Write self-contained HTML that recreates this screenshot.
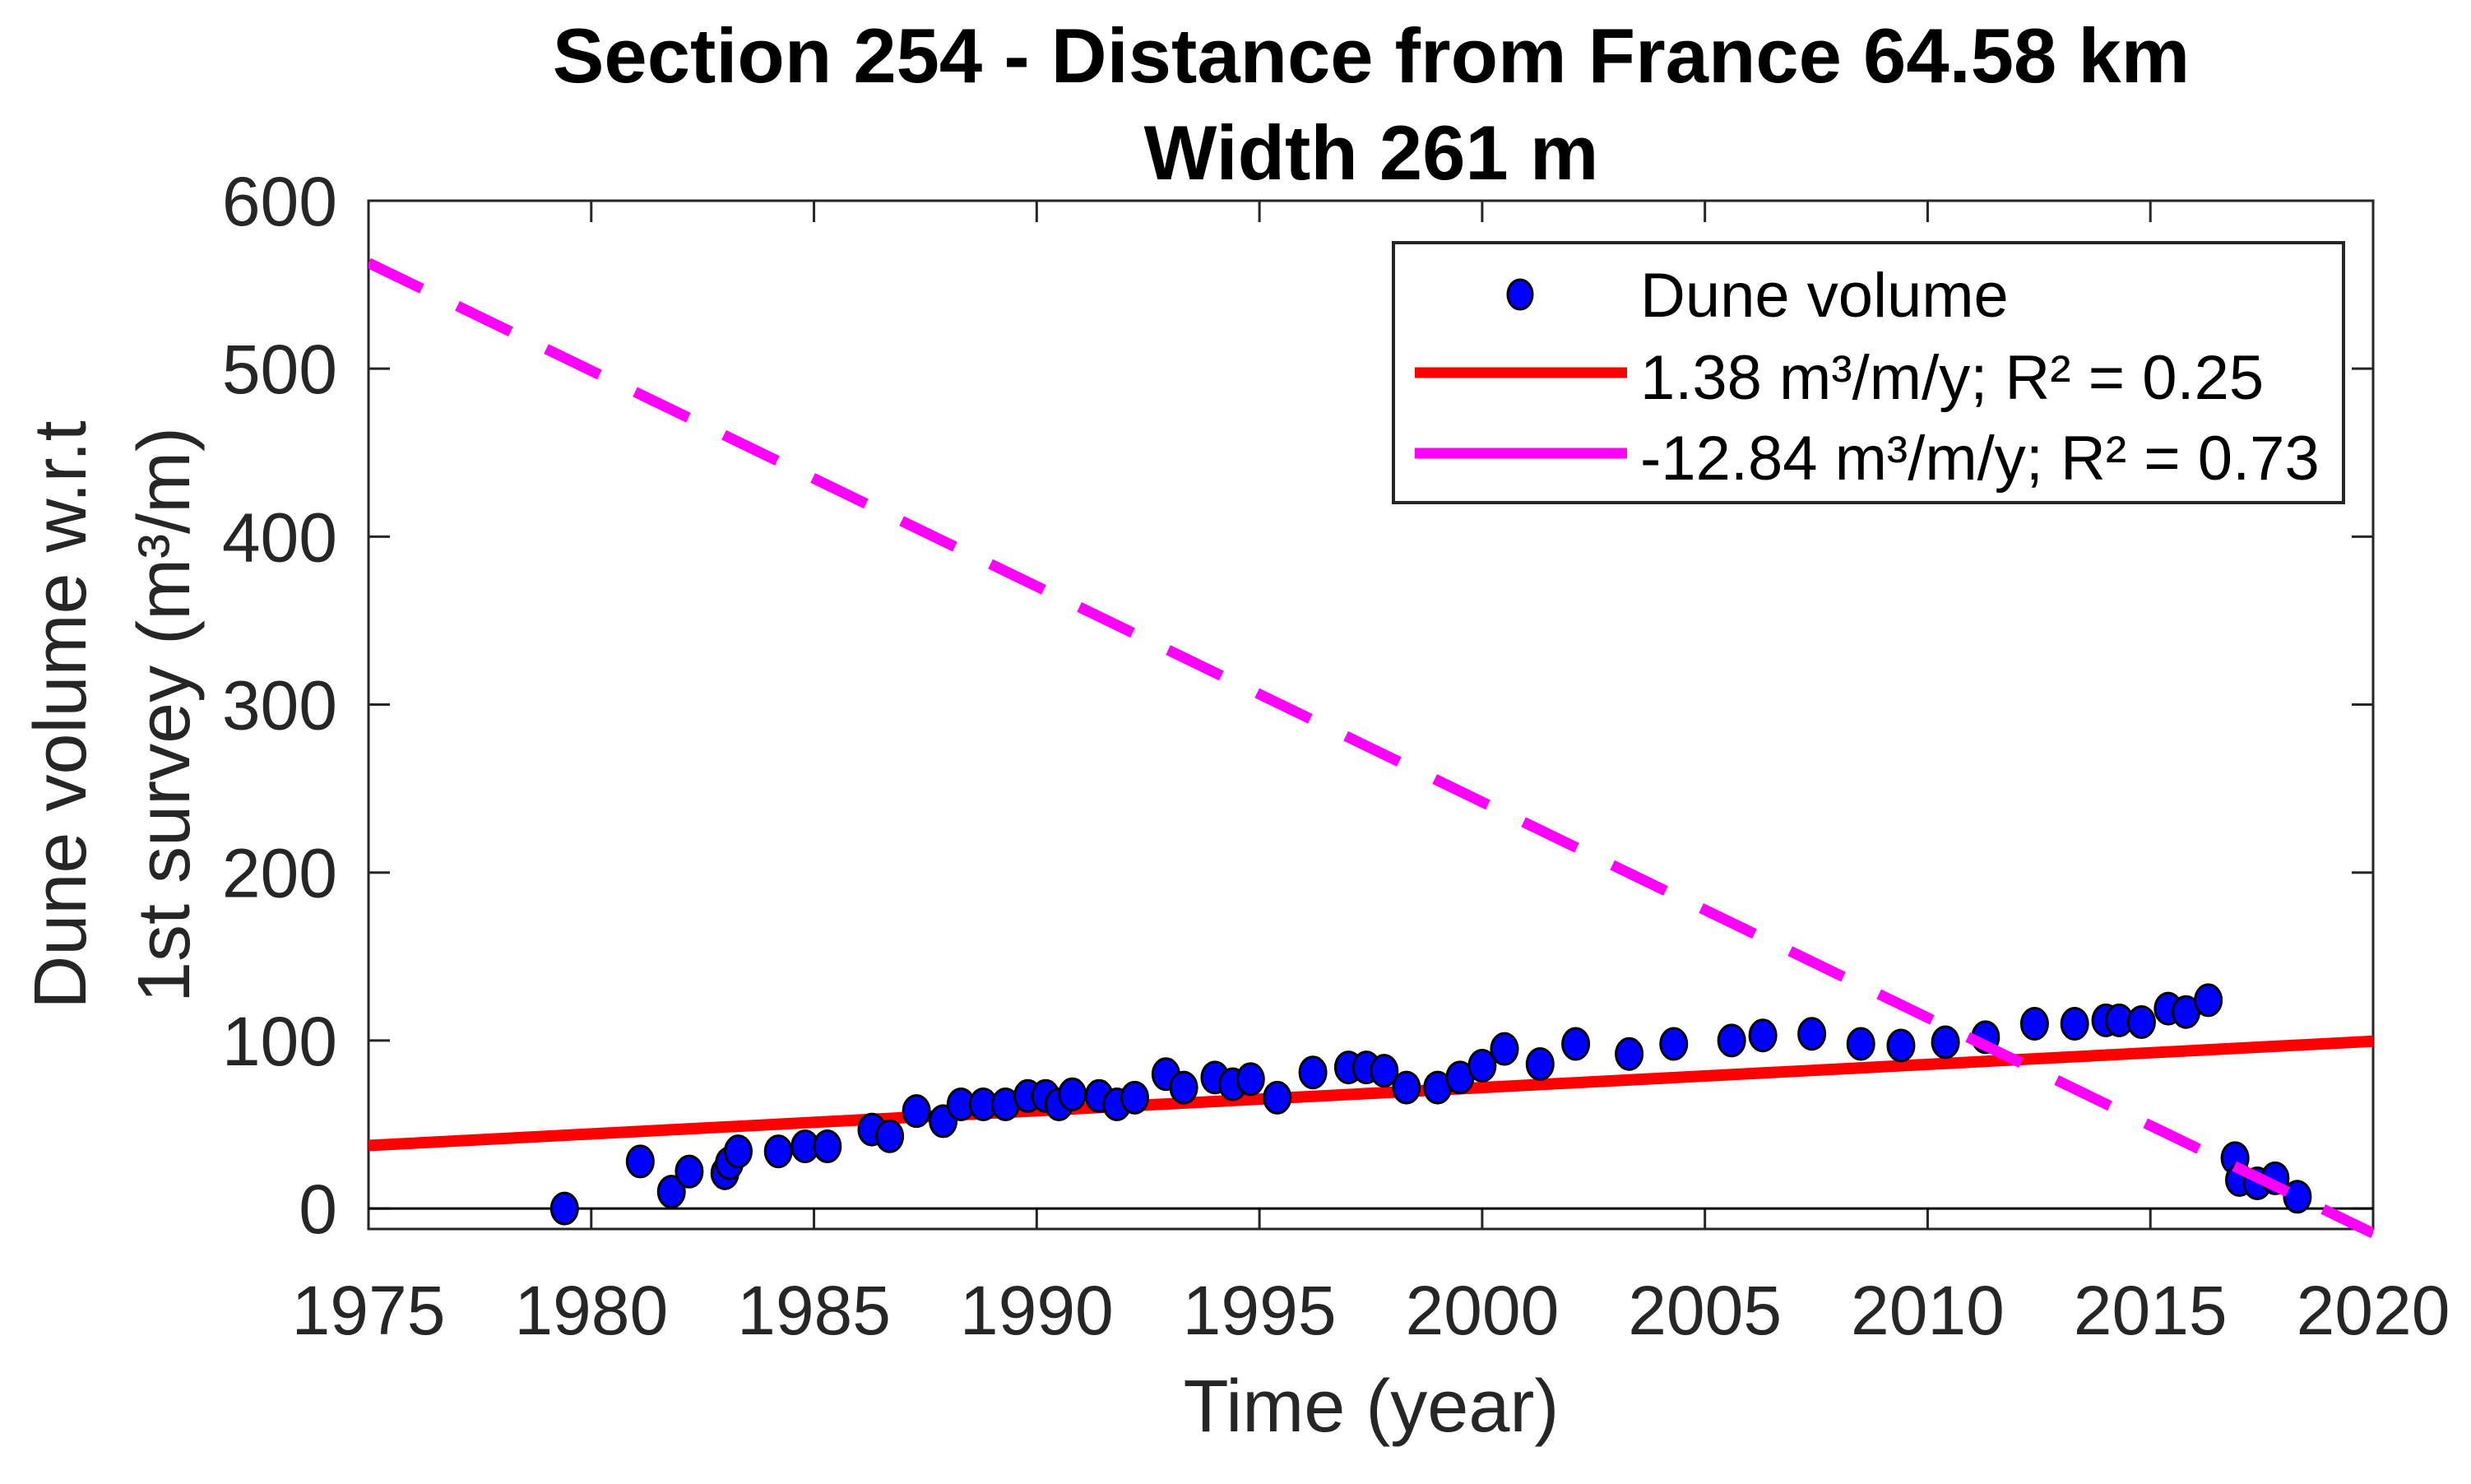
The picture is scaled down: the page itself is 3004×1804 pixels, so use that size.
<!DOCTYPE html>
<html><head><meta charset="utf-8"><style>
html,body{margin:0;padding:0;background:#fff;}
svg{display:block;font-family:"Liberation Sans",Arial,sans-serif;}
</style></head><body>
<svg id="chart" width="3004" height="1804" viewBox="0 0 3004 1804">
<text x="1667" y="100" text-anchor="middle" font-weight="bold" font-size="94">Section 254 - Distance from France 64.58 km</text>
<text x="1667" y="218" text-anchor="middle" font-weight="bold" font-size="94">Width 261 m</text>
<g id="plot"></g>
</svg>
<script>
const years=[1979.4,1981.1,1981.8,1982.2,1983.0,1983.1,1983.3,1984.2,1984.8,1985.3,1986.3,1986.7,1987.3,1987.9,1988.3,1988.8,1989.3,1989.8,1990.2,1990.5,1990.8,1991.4,1991.8,1992.2,1992.9,1993.3,1994.0,1994.4,1994.8,1995.4,1996.2,1997.0,1997.4,1997.8,1998.3,1999.0,1999.5,2000.0,2000.5,2001.3,2002.1,2003.3,2004.3,2005.6,2006.3,2007.4,2008.5,2009.4,2010.4,2011.3,2012.4,2013.3,2014.0,2014.3,2014.8,2015.4,2015.8,2016.3,2016.9,2017.0,2017.4,2017.8,2018.3];
const volumes=[0,28,10,22,21,27,34,34,37,37,47,43,58,52,62,62,62,67,67,62,68,67,62,66,80,72,78,74,77,66,81,84,84,82,72,72,78,85,95,86,98,92,98,100,103,104,98,97,99,102,110,110,112,112,111,119,117,124,30,17,15,18,7];
const redFit=[37.5,1.38];      // value at 1975, slope
const magentaFit=[563,-12.84]; // value at 1975, slope
const xTicks=[1975,1980,1985,1990,1995,2000,2005,2010,2015,2020];
const yTicks=[0,100,200,300,400,500,600];

const L=448,R=2885,T=244,B=1494;
const X0=1975,X1=2020,Y0=-12.2,Y1=600;
const sx=v=>L+(v-X0)/(X1-X0)*(R-L);
const sy=v=>B-(v-Y0)/(Y1-Y0)*(B-T);
const NS='http://www.w3.org/2000/svg';
const g=document.getElementById('plot');
function mk(t,a,p){const e=document.createElementNS(NS,t);for(const k in a)e.setAttribute(k,a[k]);(p||g).appendChild(e);return e;}

const defs=mk('defs',{});
const cp=mk('clipPath',{id:'clip'},defs);mk('rect',{x:L,y:T,width:R-L,height:B-T+40},cp);

let e=mk('rect',{x:L,y:T,width:R-L,height:B-T,fill:'none',stroke:'#262626','stroke-width':3});



xTicks.forEach(v=>{
  const x=sx(v);
  mk('line',{x1:x,y1:B,x2:x,y2:B-26,stroke:'#262626','stroke-width':3});
  mk('line',{x1:x,y1:T,x2:x,y2:T+26,stroke:'#262626','stroke-width':3});
  const t=mk('text',{x:x,y:1622,'text-anchor':'middle','font-size':84,fill:'#262626'});t.textContent=v;
  
  
});
yTicks.forEach(v=>{
  const y=sy(v);
  mk('line',{x1:L,y1:y,x2:L+26,y2:y,stroke:'#262626','stroke-width':3});
  mk('line',{x1:R,y1:y,x2:R-26,y2:y,stroke:'#262626','stroke-width':3});
  const t=mk('text',{x:410,y:y+30,'text-anchor':'end','font-size':84,fill:'#262626'});t.textContent=v;
  
  
});

e=mk('line',{x1:L,y1:sy(0),x2:R,y2:sy(0),stroke:'#000','stroke-width':3});



const pc=mk('g',{'clip-path':'url(#clip)'});
e=mk('line',{x1:sx(X0),y1:sy(redFit[0]),x2:sx(X1),y2:sy(redFit[0]+redFit[1]*(X1-X0)),stroke:'#ff0000','stroke-width':14},pc);


years.forEach((yr,i)=>{
  const c=mk('ellipse',{cx:sx(yr),cy:sy(volumes[i]),rx:16,ry:19,fill:'#0000ff',stroke:'#000','stroke-width':3},pc);
  
  
});
e=mk('line',{x1:sx(X0),y1:sy(magentaFit[0]),x2:sx(X1),y2:sy(magentaFit[0]+magentaFit[1]*(X1-X0)),stroke:'#ff00ff','stroke-width':13,'stroke-dasharray':'72 48'},pc);



let t=mk('text',{x:1667,y:1740,'text-anchor':'middle','font-size':90,fill:'#262626'});t.textContent='Time (year)';


t=mk('text',{x:0,y:0,'text-anchor':'middle','font-size':90,fill:'#262626',transform:'translate(104,869) rotate(-90)'});t.textContent='Dune volume w.r.t';


t=mk('text',{x:0,y:0,'text-anchor':'middle','font-size':90,fill:'#262626',transform:'translate(230,869) rotate(-90)'});t.textContent='1st survey (m³/m)';



const lg=mk('g',{});


mk('rect',{x:1694,y:295,width:1155,height:316,fill:'#fff',stroke:'#262626','stroke-width':4},lg);
mk('ellipse',{cx:1848,cy:358,rx:15,ry:18,fill:'#0000ff',stroke:'#000','stroke-width':3},lg);
mk('line',{x1:1720,y1:453,x2:1978,y2:453,stroke:'#ff0000','stroke-width':13},lg);
mk('line',{x1:1720,y1:551,x2:1978,y2:551,stroke:'#ff00ff','stroke-width':13},lg);
[['Dune volume',385,'legend-entry-dune-volume'],['1.38 m³/m/y; R² = 0.25',485,'legend-entry-red-fit'],['-12.84 m³/m/y; R² = 0.73',583,'legend-entry-magenta-fit']].forEach(a=>{
  const tt=mk('text',{x:1994,y:a[1],'font-size':76,fill:'#000'},lg);tt.textContent=a[0];
  
  
});
</script>
</body></html>
